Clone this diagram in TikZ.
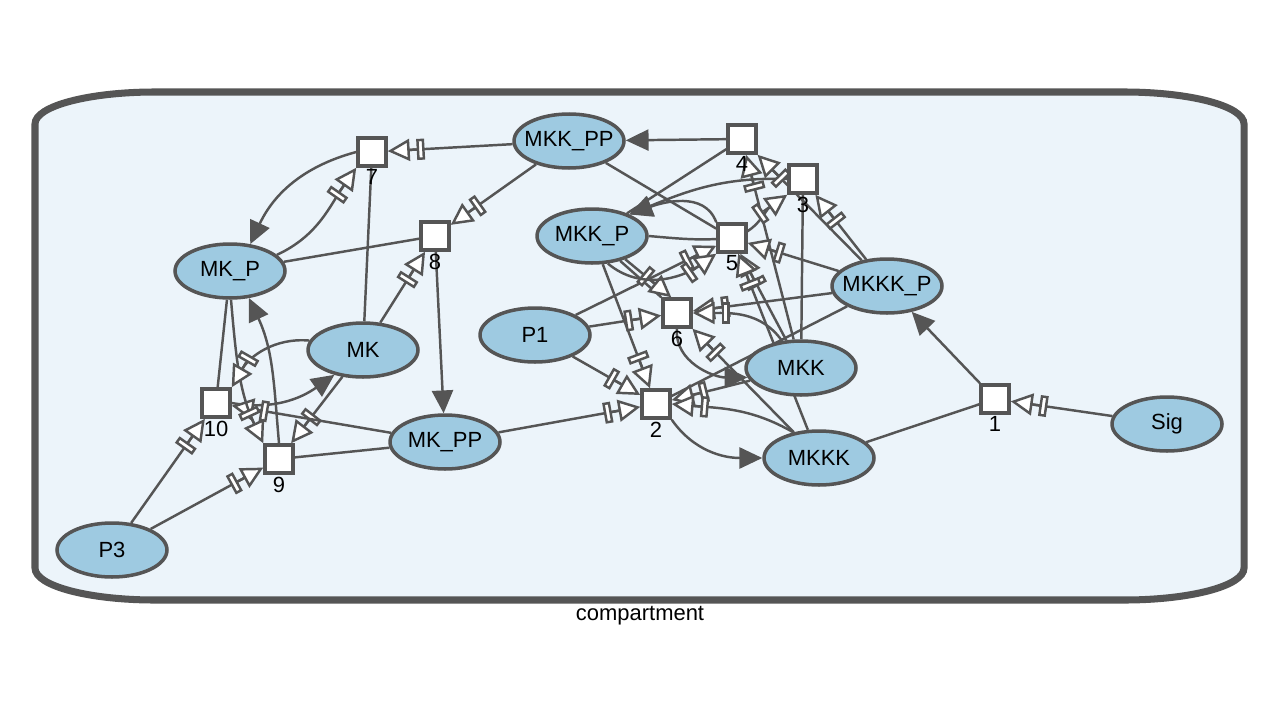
\documentclass[tikz,border=0pt]{standalone}
\usepackage{fontspec}
\setmainfont{Liberation Sans}
\usetikzlibrary{shapes.geometric,arrows.meta}
\definecolor{linegray}{RGB}{85,85,85}
\definecolor{speciesblue}{RGB}{158,202,225}
\definecolor{compfill}{RGB}{236,244,250}
\pgfdeclarelayer{bg}
\pgfdeclarelayer{edges}
\pgfsetlayers{bg,edges,main}
% species names take no width, the ellipse keeps its size
\newcommand{\spname}[1]{\makebox[0pt]{#1}}
\tikzset{
    species/.style={ellipse, draw=linegray, fill=speciesblue, line width=2pt,
        minimum width=2.2cm, minimum height=1.08cm, inner sep=0pt,
        font=\fontsize{12.5}{15}\selectfont},
    rxn/.style={draw=linegray, fill=white, line width=2pt, minimum size=0.56cm, inner sep=0pt},
    numlabel/.style={font=\fontsize{12.5}{15}\selectfont, inner sep=0pt, label distance=1pt},
    rline/.style={draw=linegray, line width=1.4pt},
    prod/.style={rline, -{Triangle[length=13pt,width=12pt]}},
    stim/.style={rline, -{Rectangle[fill=white,length=4.5pt,width=12pt]
        Rectangle[length=4pt,width=1.4pt,line width=0pt]
        Triangle[fill=white,length=12.5pt,width=12.5pt]}}
}

\begin{document}
\begin{tikzpicture}[x=0.02cm, y=-0.02cm]
    \useasboundingbox (0,0) rectangle (1280,720);

    % compartment
    \begin{pgfonlayer}{bg}
        \draw[draw=linegray, fill=compfill, line width=4pt]
            (35,124) .. controls (35,106) and (89,92) .. (155,92) -- (1124,92)
            .. controls (1190,92) and (1244,106) .. (1244,124) -- (1244,568)
            .. controls (1244,586) and (1190,600) .. (1124,600) -- (155,600)
            .. controls (89,600) and (35,586) .. (35,568) -- cycle;
    \end{pgfonlayer}
    \node[font=\fontsize{12.5}{15}\selectfont] (complabel) at (640,616) {compartment};

    % species
    \node[species] (mkkpp) at (569,141) {\spname{MKK\_PP}};
    \node[species] (mkkp) at (592,236) {\spname{MKK\_P}};
    \node[species] (mkp) at (230,271) {\spname{MK\_P}};
    \node[species] (mk) at (363,350) {\spname{MK}};
    \node[species] (mkpp) at (445,442) {\spname{MK\_PP}};
    \node[species] (pone) at (535,335) {\spname{P1}};
    \node[species] (pthree) at (112,550) {\spname{P3}};
    \node[species] (mkkkp) at (887,286) {\spname{MKKK\_P}};
    \node[species] (mkk) at (801,368) {\spname{MKK}};
    \node[species] (mkkk) at (819,458) {\spname{MKKK}};
    \node[species] (sig) at (1167,424) {\spname{Sig}};

    % reactions
    \foreach \n/\x/\y in {1/995/399, 2/656/404, 3/803/179, 4/742/139, 5/732/238,
                          6/677/313, 7/372/152, 8/435/236, 9/279/459, 10/216/403}
    \node[rxn, label={[numlabel]below:\n}] (r\n) at (\x,\y) {};

    \begin{pgfonlayer}{edges}
        % reactants
        \foreach \s/\t in {mkkk/r1, mkkkp/r2, mkk/r3, mkkp/r4, mkkpp/r5,
                           mk/r7, mkp/r8, mkpp/r9, mkp/r10}
        \draw[rline] (\s) -- (\t);
        \draw[rline] (mkkp) -- (r6.north west);

        % products
        \draw[prod] (r1) -- (mkkkp);
        \draw[prod] (r4) -- (mkkpp);
        \draw[prod] (r8) -- (mkpp);
        \draw[prod] (r2.south east) to[out=-55,in=180] (mkkk.west);
        \draw[prod] (r3.west) to[out=178,in=22] (mkkp.30);
        \draw[prod] (r5.north west) to[out=110,in=20] (mkkp.30);
        \draw[prod] (r6.south) to[out=-95,in=180] (mkk.190);
        \draw[prod] (r7.west) to[out=195,in=65] (mkp.53);
        \draw[prod] (r9.north) to[out=95,in=-65] (mkp.-55);
        \draw[prod] (r10.east) to[out=-10,in=215] (mk.221);

        % modifiers
        \foreach \s/\t in {sig/r1, pone/r2, mkpp/r2, mkkp/r2, mkk/r2, mkkkp/r3,
                           mkk/r4, mkkkp/r4, mkkkp/r5, mkk/r5, mkkk/r5, pone/r5,
                           pone/r6, mkkkp/r6, mkkk/r6, mkkpp/r7, mkkpp/r8, mk/r8,
                           pthree/r9, mk/r9, pthree/r10, mkpp/r10}
        \draw[stim] (\s) -- (\t);
        \draw[stim] (mkkp.-35) -- (r6.110);
        \draw[stim] (mkkk.135) to[out=150,in=-5] (r2.east);
        \draw[stim] (mkkp.east) to[out=-5,in=185] (r5.center) to[out=15,in=215] (r3.south west);
        \draw[stim] (mkkp.-60) to[out=-40,in=215] (r5.south west);
        \draw[stim] (mkk.125) to[out=125,in=0] (r6.east);
        \draw[stim] (mkp.19) to[out=25,in=235] (r7.south west);
        \draw[stim] (mkp.-88) to[out=-85,in=115] (r9.north west);
        \draw[stim] (mk.170) to[out=175,in=60] (r10.north east);
    \end{pgfonlayer}
\end{tikzpicture}
\end{document}
